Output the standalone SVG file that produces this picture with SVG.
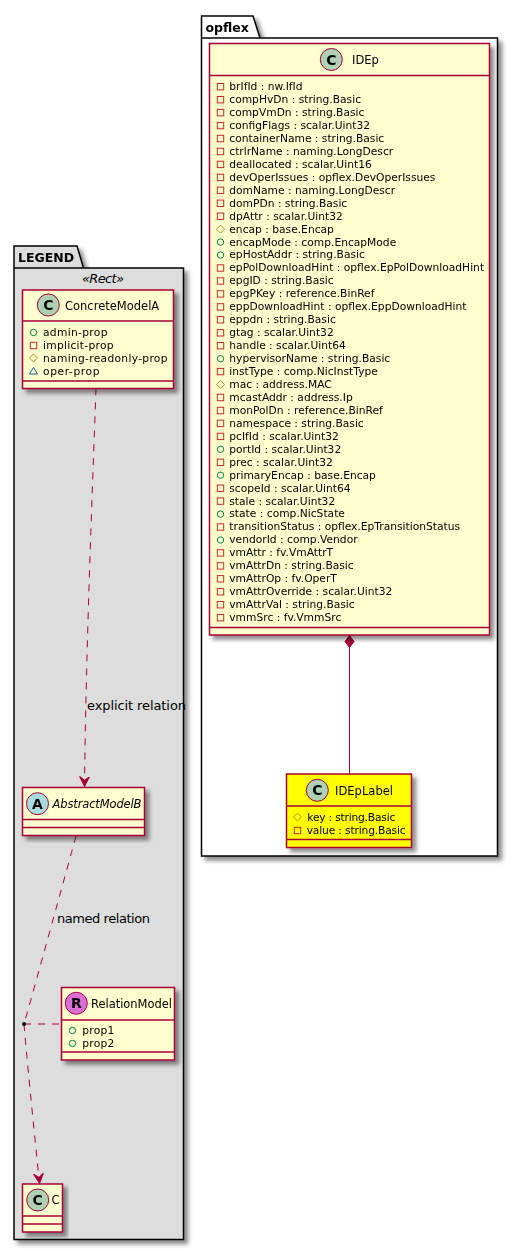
<svg xmlns="http://www.w3.org/2000/svg" width="518" height="1251" viewBox="0 0 518 1251">
<defs>
<filter id="sh" x="-10%" y="-10%" width="125%" height="125%"><feGaussianBlur in="SourceAlpha" stdDeviation="2" result="b"/><feOffset in="b" dx="4" dy="4" result="o"/><feFlood flood-color="#000" flood-opacity="0.45"/><feComposite in2="o" operator="in" result="s"/><feMerge><feMergeNode in="s"/><feMergeNode in="SourceGraphic"/></feMerge></filter>
<marker id="open" markerWidth="12" markerHeight="12" refX="10" refY="6" orient="auto" markerUnits="userSpaceOnUse" viewBox="0 0 12 12"><path d="M0,1 L10,6 L0,11 L4,6 Z" fill="#A80036" stroke="#A80036"/></marker>
<g id="priv"><rect x="-3.200" y="-3.200" width="6.400" height="6.400" fill="none" stroke="#C82930"/></g>
<g id="pub"><circle r="3.200" fill="none" stroke="#038048"/></g>
<g id="prot"><path d="M0,-4 L4,0 L0,4 L-4,0 Z" fill="none" stroke="#B38D22"/></g>
<g id="pkgp"><path d="M0,-3.500 L4,3 L-4,3 Z" fill="none" stroke="#1963A0"/></g>
</defs>
<style>
text{font-family:"DejaVu Sans","Liberation Sans",sans-serif;fill:#000}
.m{font-size:10.7px}
.n{font-size:11.5px}
.l{font-size:13px}
.b{font-size:12.500px;font-weight:bold}
.box{fill:#FEFECE;stroke:#A80036;stroke-width:1.5}
.yb{fill:#FFFF00;stroke:#A80036;stroke-width:1.5}
.d{stroke:#A80036;stroke-width:1.5;fill:none}
.dd{stroke:#A80036;stroke-width:1;fill:none;stroke-dasharray:7,7}
.g{font-size:14px;font-weight:bold;text-anchor:middle}
.pk{stroke:#000;stroke-width:1.5}
</style>

<g id="pkg-legend" filter="url(#sh)"><path class="pk" fill="#DDDDDD" d="M14,268 V246 H77 L83.500,268 H183.500 V1239.500 H14 Z"/><path class="pk" fill="none" d="M14,268 H83.500"/><text class="b" x="18" y="262">LEGEND</text></g>
<g id="pkg-opflex" filter="url(#sh)"><path class="pk" fill="#FFFFFF" d="M201.500,38 V16 H253 L260,38 H497.500 V856 H201.500 Z"/><path class="pk" fill="none" d="M201.500,38 H260"/><text class="b" x="205.500" y="32">opflex</text></g>
<text x="82" y="283" font-size="13" font-style="italic" textLength="42">«Rect»</text>

<g id="connectors">
<path class="dd" d="M96,388.500 C92,500 86,650 84.500,786.500" marker-end="url(#open)"/>
<path class="dd" d="M76,836 C70,858 31,1000 24,1024"/>
<path class="dd" d="M24,1024 C26,1050 34,1130 39.500,1183.500" marker-end="url(#open)"/>
<path class="dd" d="M24,1024 H61"/>
<circle cx="24" cy="1024" r="2" fill="#000"/>
<path d="M349.500,647 V774" stroke="#A80036" fill="none"/>
<path d="M349.500,635.500 L354,641.500 L349.500,647.500 L345,641.500 Z" fill="#A80036" stroke="#A80036"/>
<text class="l" x="87" y="710" textLength="99">explicit relation</text>
<text class="l" x="57" y="923" textLength="93">named relation</text>
</g>

<g id="ConcreteModelA" filter="url(#sh)">
<rect class="box" x="22.500" y="290" width="151" height="98.500"/>
<path class="d" d="M22.500,321 H173.500 M22.500,381 H173.500"/>
<circle cx="48.300" cy="305" r="11" fill="#ADD1B2" stroke="#A80036"/><text class="g" x="48.300" y="310">C</text>
<text class="n" x="65" y="310">ConcreteModelA</text>
<use href="#pub" x="33.500" y="332.500"/><text class="m" x="43" y="336" textLength="64.500">admin-prop</text>
<use href="#priv" x="33.500" y="345.500"/><text class="m" x="43" y="349" textLength="70.500">implicit-prop</text>
<use href="#prot" x="33.500" y="358"/><text class="m" x="43" y="362" textLength="124.500">naming-readonly-prop</text>
<use href="#pkgp" x="33.500" y="371"/><text class="m" x="43" y="375" textLength="56.500">oper-prop</text>
</g>

<g id="AbstractModelB" filter="url(#sh)">
<rect class="box" x="22.500" y="787.500" width="122" height="48"/>
<path class="d" d="M22.500,819.500 H144.500 M22.500,827.500 H144.500"/>
<circle cx="37.500" cy="803.700" r="11" fill="#A9DCDF" stroke="#A80036"/><text class="g" x="37.500" y="808.700">A</text>
<text class="n" x="52.500" y="807.700" font-style="italic" textLength="89">AbstractModelB</text>
</g>

<g id="RelationModel" filter="url(#sh)">
<rect class="box" x="61.500" y="987.500" width="113" height="72.500"/>
<path class="d" d="M61.500,1020 H174.500 M61.500,1052 H174.500"/>
<circle cx="76.300" cy="1003.300" r="11" fill="#DA70D6" stroke="#A80036"/><text class="g" x="76.300" y="1008.300">R</text>
<text class="n" x="91" y="1008" textLength="81">RelationModel</text>
<use href="#pub" x="72.500" y="1030.500"/><text class="m" x="82.300" y="1034" textLength="32">prop1</text>
<use href="#pub" x="72.500" y="1043.500"/><text class="m" x="82.300" y="1047" textLength="32">prop2</text>
</g>

<g id="C" filter="url(#sh)">
<rect class="box" x="22.500" y="1184" width="40" height="48"/>
<path class="d" d="M22.500,1216 H62.500 M22.500,1224 H62.500"/>
<circle cx="37.700" cy="1200" r="11" fill="#ADD1B2" stroke="#A80036"/><text class="g" x="37.700" y="1205">C</text>
<text class="n" x="51.500" y="1204">C</text>
</g>

<g id="IDEp" filter="url(#sh)">
<rect class="box" x="209.500" y="43.500" width="280" height="591.500"/>
<path class="d" d="M209.500,75.500 H489.500 M209.500,627.500 H489.500"/>
<circle cx="331.300" cy="59.500" r="11" fill="#ADD1B2" stroke="#A80036"/><text class="g" x="331.300" y="64.500">C</text>
<text class="n" x="352" y="64">IDEp</text>
<use href="#priv" x="220.500" y="86.700"/><text class="m" x="229.300" y="90">brIfId : nw.IfId</text>
<use href="#priv" x="220.500" y="99.700"/><text class="m" x="229.300" y="103">compHvDn : string.Basic</text>
<use href="#priv" x="220.500" y="112.600"/><text class="m" x="229.300" y="116">compVmDn : string.Basic</text>
<use href="#priv" x="220.500" y="125.600"/><text class="m" x="229.300" y="129">configFlags : scalar.Uint32</text>
<use href="#priv" x="220.500" y="138.500"/><text class="m" x="229.300" y="142">containerName : string.Basic</text>
<use href="#priv" x="220.500" y="151.500"/><text class="m" x="229.300" y="155">ctrlrName : naming.LongDescr</text>
<use href="#priv" x="220.500" y="164.400"/><text class="m" x="229.300" y="168">deallocated : scalar.Uint16</text>
<use href="#priv" x="220.500" y="177.400"/><text class="m" x="229.300" y="181">devOperIssues : opflex.DevOperIssues</text>
<use href="#priv" x="220.500" y="190.300"/><text class="m" x="229.300" y="194">domName : naming.LongDescr</text>
<use href="#priv" x="220.500" y="203.300"/><text class="m" x="229.300" y="207">domPDn : string.Basic</text>
<use href="#priv" x="220.500" y="216.200"/><text class="m" x="229.300" y="220">dpAttr : scalar.Uint32</text>
<use href="#prot" x="220.500" y="229.200"/><text class="m" x="229.300" y="232.500">encap : base.Encap</text>
<use href="#pub" x="220.500" y="242.100"/><text class="m" x="229.300" y="245.500">encapMode : comp.EncapMode</text>
<use href="#pub" x="220.500" y="255.100"/><text class="m" x="229.300" y="258.400">epHostAddr : string.Basic</text>
<use href="#priv" x="220.500" y="268"/><text class="m" x="229.300" y="271.400">epPolDownloadHint : opflex.EpPolDownloadHint</text>
<use href="#priv" x="220.500" y="281"/><text class="m" x="229.300" y="284.300">epgID : string.Basic</text>
<use href="#priv" x="220.500" y="293.900"/><text class="m" x="229.300" y="297.300">epgPKey : reference.BinRef</text>
<use href="#priv" x="220.500" y="306.900"/><text class="m" x="229.300" y="310.200">eppDownloadHint : opflex.EppDownloadHint</text>
<use href="#priv" x="220.500" y="319.800"/><text class="m" x="229.300" y="323.200">eppdn : string.Basic</text>
<use href="#priv" x="220.500" y="332.800"/><text class="m" x="229.300" y="336.100">gtag : scalar.Uint32</text>
<use href="#priv" x="220.500" y="345.700"/><text class="m" x="229.300" y="349.100">handle : scalar.Uint64</text>
<use href="#pub" x="220.500" y="358.700"/><text class="m" x="229.300" y="362">hypervisorName : string.Basic</text>
<use href="#priv" x="220.500" y="371.600"/><text class="m" x="229.300" y="375">instType : comp.NicInstType</text>
<use href="#prot" x="220.500" y="384.600"/><text class="m" x="229.300" y="387.900">mac : address.MAC</text>
<use href="#priv" x="220.500" y="397.500"/><text class="m" x="229.300" y="400.900">mcastAddr : address.Ip</text>
<use href="#priv" x="220.500" y="410.500"/><text class="m" x="229.300" y="413.800">monPolDn : reference.BinRef</text>
<use href="#priv" x="220.500" y="423.400"/><text class="m" x="229.300" y="426.800">namespace : string.Basic</text>
<use href="#priv" x="220.500" y="436.400"/><text class="m" x="229.300" y="439.700">pcIfId : scalar.Uint32</text>
<use href="#pub" x="220.500" y="449.300"/><text class="m" x="229.300" y="452.700">portId : scalar.Uint32</text>
<use href="#priv" x="220.500" y="462.300"/><text class="m" x="229.300" y="465.600">prec : scalar.Uint32</text>
<use href="#pub" x="220.500" y="475.200"/><text class="m" x="229.300" y="478.600">primaryEncap : base.Encap</text>
<use href="#priv" x="220.500" y="488.200"/><text class="m" x="229.300" y="491.500">scopeId : scalar.Uint64</text>
<use href="#priv" x="220.500" y="501.100"/><text class="m" x="229.300" y="504.500">stale : scalar.Uint32</text>
<use href="#pub" x="220.500" y="514.100"/><text class="m" x="229.300" y="517.400">state : comp.NicState</text>
<use href="#priv" x="220.500" y="527"/><text class="m" x="229.300" y="530.400">transitionStatus : opflex.EpTransitionStatus</text>
<use href="#pub" x="220.500" y="540"/><text class="m" x="229.300" y="543.300">vendorId : comp.Vendor</text>
<use href="#priv" x="220.500" y="552.900"/><text class="m" x="229.300" y="556.300">vmAttr : fv.VmAttrT</text>
<use href="#priv" x="220.500" y="565.900"/><text class="m" x="229.300" y="569.200">vmAttrDn : string.Basic</text>
<use href="#priv" x="220.500" y="578.800"/><text class="m" x="229.300" y="582.200">vmAttrOp : fv.OperT</text>
<use href="#priv" x="220.500" y="591.800"/><text class="m" x="229.300" y="595.100">vmAttrOverride : scalar.Uint32</text>
<use href="#priv" x="220.500" y="604.700"/><text class="m" x="229.300" y="608">vmAttrVal : string.Basic</text>
<use href="#priv" x="220.500" y="617.700"/><text class="m" x="229.300" y="621">vmmSrc : fv.VmmSrc</text>
</g>

<g id="IDEpLabel" filter="url(#sh)">
<rect class="yb" x="286.500" y="774" width="125" height="73.500"/>
<path class="d" d="M286.500,806 H411.500 M286.500,839.500 H411.500"/>
<circle cx="317.300" cy="790.300" r="11" fill="#ADD1B2" stroke="#A80036"/><text class="g" x="317.300" y="795.300">C</text>
<text class="n" x="335" y="795" textLength="58">IDEpLabel</text>
<use href="#prot" x="297.500" y="817"/><text class="m" x="307.300" y="821" textLength="88">key : string.Basic</text>
<use href="#priv" x="297.500" y="830.500"/><text class="m" x="306.700" y="834" textLength="99">value : string.Basic</text>
</g>
</svg>
